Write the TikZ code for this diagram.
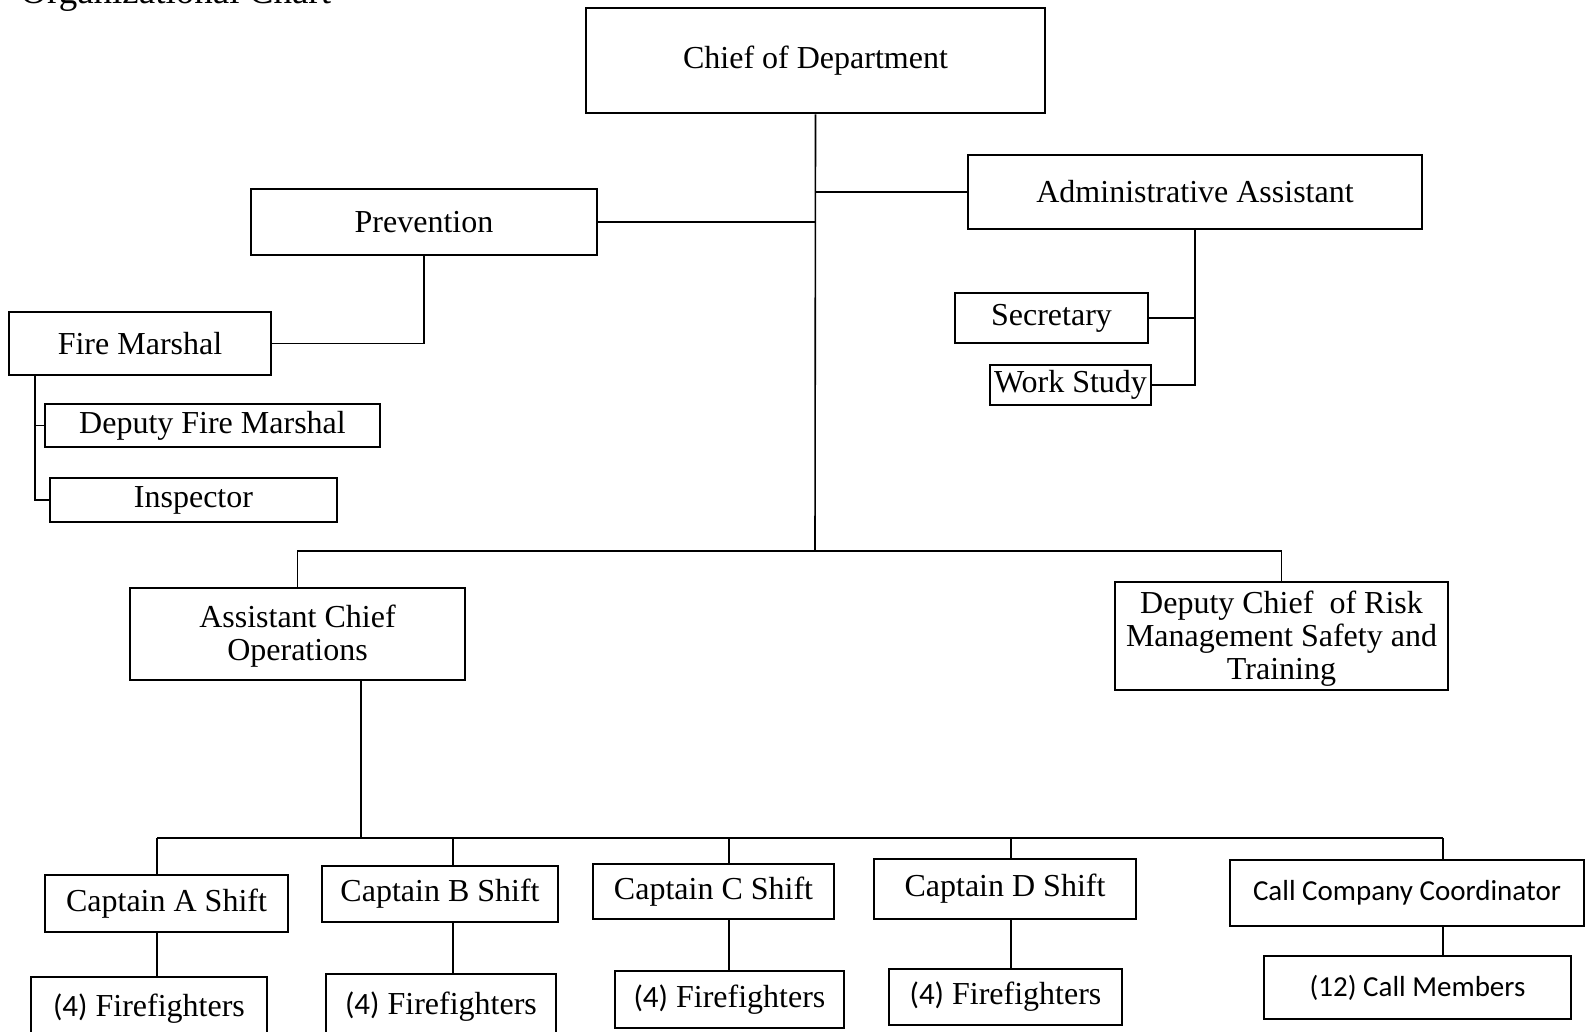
\documentclass[tikz,border=0pt]{standalone}
\usepackage{fontspec}
\setmainfont{Liberation Serif}
\newfontfamily\calfont{Carlito}
\usetikzlibrary{calc}
\tikzset{
  box/.style={draw, line width=1pt, inner sep=0pt, align=center,
    font=\fontsize{16}{16.5}\selectfont},
  conn/.style={line width=0.8pt},
  thin conn/.style={line width=0.6pt}
}
\newcommand{\calitxt}[1]{{\calfont\fontsize{14.5}{16}\selectfont #1}}
\newcommand{\calnum}[1]{{\calfont\fontsize{15.5}{16}\selectfont #1}}
\begin{document}
\begin{tikzpicture}[x=0.5pt,y=-0.5pt]
\useasboundingbox (0,0) rectangle (1585,1032);
\clip (0,0) rectangle (1585,1032);
\fill[white] (0,0) rectangle (1585,1032);
% title (cut off at the top, as in the scan)
\node[anchor=base west, inner sep=0pt, font=\fontsize{18.5}{20}\selectfont] (title) at (20,4) {Organizational Chart};
% boxes
\node[box, minimum width=229.5pt, minimum height=52.5pt] (chief) at (815.5,61) {Chief of Department};
\node[box, minimum width=173pt, minimum height=33pt] (prev) at (424,222) {Prevention};
\node[box, minimum width=227pt, minimum height=37pt] (admin) at (1195,192) {Administrative Assistant};
\node[box, minimum width=131pt, minimum height=31.5pt] (fm) at (140,343.5) {Fire Marshal};
\node[box, minimum width=167.5pt, minimum height=21.5pt] (dfm) at (212.5,425.5) {Deputy Fire Marshal};
\node[box, minimum width=143.5pt, minimum height=22pt] (insp) at (193.5,500) {Inspector};
\node[box, minimum width=96.5pt, minimum height=25pt] (sec) at (1051.5,318) {Secretary};
\node[box, minimum width=80.5pt, minimum height=20pt] (ws) at (1070.5,385) {Work Study};
\node[box, minimum width=167.5pt, minimum height=46pt] (aco) at (297.5,634) {\\[-3pt]Assistant Chief\\Operations};
\node[box, minimum width=166.5pt, minimum height=54pt] (dc) at (1281.5,636) {\\[-3pt]Deputy Chief \ of Risk\\Management Safety and\\Training};
\node[box, minimum width=121.5pt, minimum height=28.5pt] (capA) at (166.5,903.5) {Captain A Shift};
\node[box, minimum width=118pt, minimum height=28pt] (capB) at (440,894) {Captain B Shift};
\node[box, minimum width=120.5pt, minimum height=27.5pt] (capC) at (713.5,891.5) {Captain C Shift};
\node[box, minimum width=131pt, minimum height=30pt] (capD) at (1005,889) {Captain D Shift};
\node[box, minimum width=177pt, minimum height=33pt] (ccc) at (1407,893) {\calitxt{Call Company Coordinator}};
\node[box, minimum width=118pt, minimum height=31.5pt] (ffA) at (149,1008.5) {\calnum{(4)} Firefighters};
\node[box, minimum width=115pt, minimum height=33pt] (ffB) at (441,1007) {\calnum{(4)} Firefighters};
\node[box, minimum width=114.5pt, minimum height=28.5pt] (ffC) at (729.5,999.5) {\calnum{(4)} Firefighters};
\node[box, minimum width=116.5pt, minimum height=28pt] (ffD) at (1005.5,997) {\calnum{(4)} Firefighters};
\node[box, minimum width=153.5pt, minimum height=31.5pt] (cm) at (1417.5,987.5) {\calitxt{(12) Call Members}};
% connectors: top part
\coordinate (bus1) at (815,551);
\draw[conn] (chief.south) -- (bus1);
\draw[conn] (prev.east) -- (prev.east -| chief.south);
\draw[conn] (admin.west) -- (admin.west -| chief.south);
\draw[conn] (prev.south) |- (fm.east);
\coordinate (fmx) at (35,375);
\draw[conn] (fmx) |- (insp.west);
\draw[conn] (fmx |- dfm.west) -- (dfm.west);
\draw[conn] (admin.south) |- (ws.east);
\draw[conn] (sec.east) -- (sec.east -| admin.south);
\draw[conn] (aco.north) |- (bus1) -| (dc.north);
% connectors: operations
\coordinate (acox) at (361,680);
\coordinate (bus2) at (361,838);
\draw[conn] (acox) -- (bus2);
\coordinate (dA) at (157,838);
\coordinate (dB) at (453,838);
\coordinate (dC) at (729,838);
\coordinate (dD) at (1011,838);
\coordinate (dE) at (1443,838);
\draw[thin conn] (dA) -- (dE);
\draw[thin conn] (dA) -- (dA |- capA.north);
\draw[thin conn] (dB) -- (dB |- capB.north);
\draw[thin conn] (dC) -- (dC |- capC.north);
\draw[thin conn] (dD) -- (dD |- capD.north);
\draw[thin conn] (dE) -- (dE |- ccc.north);
\draw[thin conn] (capA.south -| dA) -- (ffA.north -| dA);
\draw[thin conn] (capB.south -| dB) -- (ffB.north -| dB);
\draw[thin conn] (capC.south -| dC) -- (ffC.north -| dC);
\draw[thin conn] (capD.south -| dD) -- (ffD.north -| dD);
\draw[thin conn] (ccc.south -| dE) -- (cm.north -| dE);
\end{tikzpicture}
\end{document}
